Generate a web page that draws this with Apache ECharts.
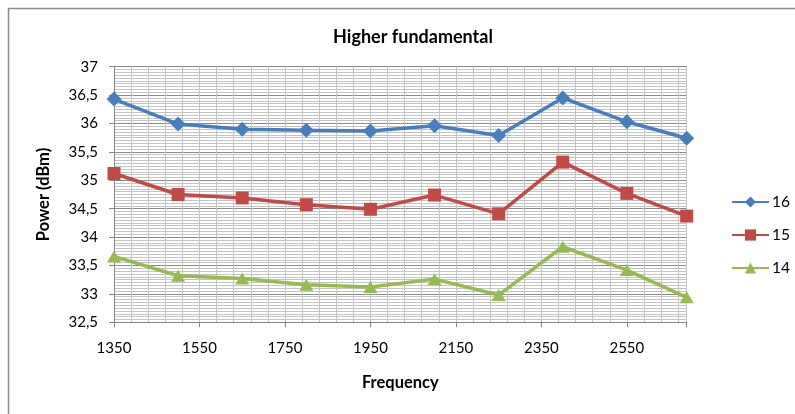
<!DOCTYPE html>
<html>
<head>
<meta charset="utf-8">
<script src="https://cdn.jsdelivr.net/npm/echarts@6/dist/echarts.min.js"></script>
<style>
  html, body { margin: 0; padding: 0; background: #fff; }
  #chart { width: 795px; height: 414px; }
</style>
</head>
<body>
<div id="chart"></div>
<script>
// Measured output power per frequency, one array per setting
const frequencies = [1350, 1500, 1650, 1800, 1950, 2100, 2250, 2400, 2550, 2690];
const power16 = [36.43, 35.99, 35.90, 35.88, 35.87, 35.96, 35.79, 36.45, 36.03, 35.74];
const power15 = [35.12, 34.75, 34.69, 34.57, 34.49, 34.74, 34.41, 35.32, 34.77, 34.37];
const power14 = [33.66, 33.32, 33.27, 33.16, 33.12, 33.26, 32.98, 33.83, 33.42, 32.94];
const seriesNames = ['16', '15', '14'];
const xTickLabels = ['1350', '1550', '1750', '1950', '2150', '2350', '2550'];

const FONT = 'Lato, "Open Sans", sans-serif';
const pairs = (vals) => frequencies.map((f, i) => [f, vals[i]]);

const chart = echarts.init(document.getElementById('chart'), null, { renderer: 'canvas' });

const major = { show: true, lineStyle: { color: '#8a8a8a', width: 1 } };
const minor = { show: true, lineStyle: { color: '#c4c4c4', width: 1 } };

chart.setOption({
  backgroundColor: '#ffffff',
  animation: false,
  textStyle: { fontFamily: FONT },
  graphic: [{
    type: 'rect',
    shape: { x: 8.5, y: 8.5, width: 820, height: 430 },
    style: { fill: 'none', stroke: '#8c8c8c', lineWidth: 1.5 },
    silent: true
  }],
  title: {
    text: 'Higher fundamental',
    left: 408, top: 23, textAlign: 'center',
    textStyle: { fontFamily: FONT, fontSize: 18, fontWeight: 'bold', color: '#000' }
  },
  legend: {
    orient: 'vertical',
    left: 726, top: 189,
    itemWidth: 37, itemHeight: 14, itemGap: 17,
    textStyle: { fontFamily: FONT, fontSize: 15.5, color: '#000', padding: [0, 0, 0, -2] },
    data: seriesNames
  },
  grid: { left: 114, right: 108.3, top: 66.7, bottom: 91.7, containLabel: false },
  xAxis: [{
    type: 'value',
    min: 1350, max: 2690, interval: 200,
    name: 'Frequency', nameLocation: 'middle', nameGap: 52,
    nameTextStyle: { fontFamily: FONT, fontSize: 16.5, fontWeight: 'bold', color: '#000' },
    axisLine: { show: true, lineStyle: { color: '#868686', width: 1 } },
    axisTick: { show: true, length: 5, lineStyle: { color: '#868686' } },
    axisLabel: {
      fontFamily: FONT, fontSize: 15, color: '#000', margin: 18,
      formatter: (v) => xTickLabels.includes(String(v)) ? String(v) : ''
    },
    splitLine: major
  }, {
    // finer frequency grid (40 steps)
    type: 'value',
    min: 1350, max: 2690, interval: 40,
    position: 'bottom',
    axisLine: { show: false }, axisTick: { show: false }, axisLabel: { show: false },
    splitLine: minor, z: 0
  }],
  yAxis: {
    type: 'value',
    min: 32.5, max: 37, interval: 0.5,
    name: 'Power (dBm)', nameLocation: 'middle', nameGap: 62,
    nameTextStyle: { fontFamily: FONT, fontSize: 16.5, fontWeight: 'bold', color: '#000' },
    axisLine: { show: true, lineStyle: { color: '#868686', width: 1 } },
    axisTick: { show: true, length: 5, lineStyle: { color: '#868686' } },
    axisLabel: {
      fontFamily: FONT, fontSize: 15, color: '#000', margin: 16,
      formatter: (v) => String(v).replace('.', ',')
    },
    splitLine: major,
    minorTick: { show: false, splitNumber: 10 },
    minorSplitLine: minor
  },
  series: [{
    name: seriesNames[0], type: 'line', data: pairs(power16),
    symbol: 'diamond', symbolSize: 15,
    lineStyle: { color: '#4a7ebb', width: 3.5 },
    itemStyle: { color: '#4a7ebb' }, z: 5
  }, {
    name: seriesNames[1], type: 'line', data: pairs(power15),
    symbol: 'rect', symbolSize: 13,
    lineStyle: { color: '#be4b48', width: 3.5 },
    itemStyle: { color: '#be4b48' }, z: 5
  }, {
    name: seriesNames[2], type: 'line', data: pairs(power14),
    symbol: 'triangle', symbolSize: [14, 12],
    lineStyle: { color: '#98b954', width: 3.5 },
    itemStyle: { color: '#98b954' }, z: 5
  }]
});
</script>
</body>
</html>
